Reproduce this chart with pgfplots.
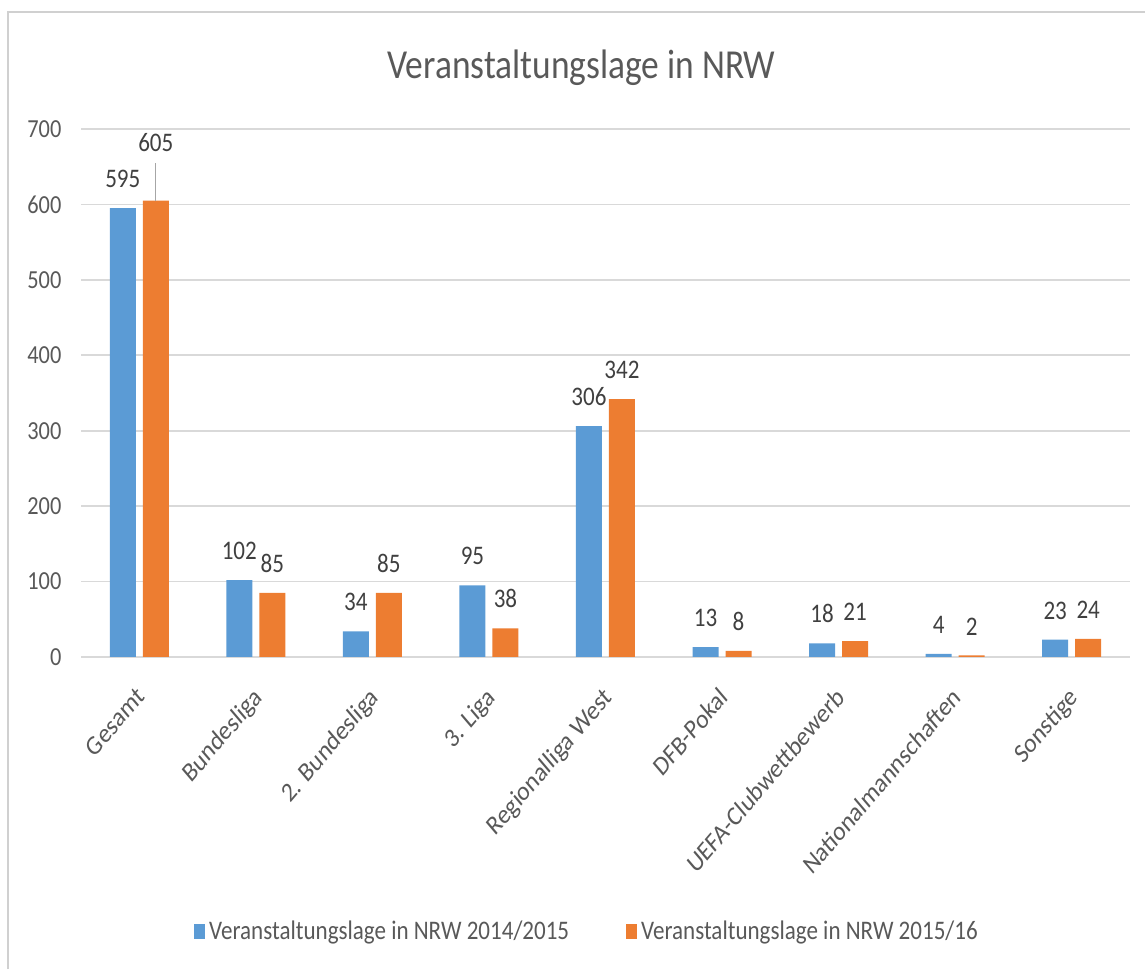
\documentclass[border=0pt]{standalone}
\usepackage{fontspec}
\setmainfont[FakeStretch=0.86]{Carlito}
\newfontfamily\plainfont{Carlito}
\usepackage{pgfplots}
\pgfplotsset{compat=1.18}
\definecolor{cblue}{HTML}{5B9BD5}
\definecolor{corange}{HTML}{ED7D31}
\definecolor{cgrid}{HTML}{D9D9D9}
\definecolor{ctext}{HTML}{595959}
\definecolor{clabel}{HTML}{404040}
\begin{document}
\begin{tikzpicture}
\draw[cgrid!90!gray, line width=1.2pt] (4pt,0pt) -- (4pt,478.5pt) -- (572.5pt,478.5pt);
\node[anchor=base, font=\fontsize{20.6}{24}\selectfont, text=ctext, inner sep=0pt] at (290.75pt,445pt) {Veranstaltungslage in NRW};
\begin{axis}[
  at={(40.5pt,156pt)}, anchor=south west,
  scale only axis, width=524.5pt, height=264pt,
  ybar=3.5pt, bar width=13pt,
  xmin=-0.5, xmax=8.5, ymin=0, ymax=700,
  xtick={0,...,8},
  xticklabels={Gesamt,Bundesliga,2. Bundesliga,3. Liga,Regionalliga West,DFB-Pokal,UEFA-Clubwettbewerb,Nationalmannschaften,Sonstige},
  ytick={0,100,...,700},
  /pgf/number format/assume math mode=true,
  major tick length=0pt,
  axis x line*=bottom, axis y line*=left,
  y axis line style={draw=none},
  x axis line style={draw=cgrid, line width=0.9pt},
  ymajorgrids, grid style={draw=cgrid, line width=0.9pt},
  yticklabel style={font=\fontsize{13}{15}\selectfont, text=ctext, inner sep=0pt, anchor=east, xshift=-9.6pt},
  xticklabel style={xshift=-2pt, yshift=-14pt, xscale=0.85, rotate=45, font=\plainfont\fontsize{13.6}{15}\selectfont, text=ctext, anchor=north east, inner sep=0pt},
  nodes near coords,
  point meta=explicit symbolic,
  every node near coord/.append style={font=\fontsize{13.4}{15}\selectfont, text=clabel, inner sep=0pt, anchor=south, yshift=10pt},
  legend columns=2,
  legend style={draw=none, at={(0.4833,-0.5199)}, anchor=center, font=\fontsize{13.4}{15}\selectfont, text=ctext,
    /tikz/every even column/.append style={column sep=26.5pt}},
  legend image code/.code={\fill[#1] (0pt,-3.75pt) rectangle (5.5pt,3.75pt);},
]
\addplot[fill=cblue, draw=none] coordinates {(0,595)[595] (1,102)[102] (2,34)[34] (3,95)[95] (4,306)[306] (5,13)[13] (6,18)[18] (7,4)[4] (8,23)[23]};
\addplot[fill=corange, draw=none] coordinates {(0,605)[] (1,85)[85] (2,85)[85] (3,38)[38] (4,342)[342] (5,8)[8] (6,21)[21] (7,2)[2] (8,24)[24]};
\legend{Veranstaltungslage in NRW 2014/2015, Veranstaltungslage in NRW 2015/16}
\draw[gray!70, line width=0.5pt] (axis cs:0,605) ++(8.25pt,0pt) -- ++(0pt,18.8pt);
\node[anchor=south, inner sep=0pt, font=\fontsize{13.4}{15}\selectfont, text=clabel] at (axis cs:0,605) [xshift=8.25pt, yshift=24.3pt] {605};
\end{axis}
\pgfresetboundingbox
\path[use as bounding box] (0pt,0pt) rectangle (572.5pt,484.5pt);
\end{tikzpicture}
\end{document}
